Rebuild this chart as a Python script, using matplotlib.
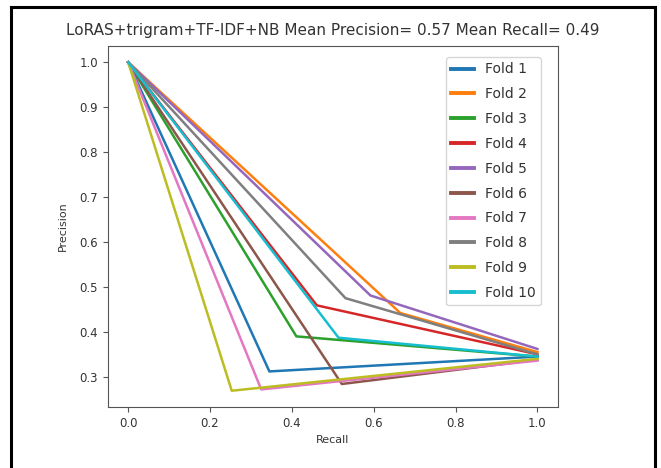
import matplotlib
matplotlib.use("Agg")
import matplotlib.pyplot as plt
from matplotlib.lines import Line2D

folds = ["Fold 1", "Fold 2", "Fold 3", "Fold 4", "Fold 5",
         "Fold 6", "Fold 7", "Fold 8", "Fold 9", "Fold 10"]
mid_recall = [0.345, 0.665, 0.411, 0.461, 0.592, 0.522, 0.325, 0.531, 0.253, 0.514]
mid_precision = [0.312, 0.442, 0.390, 0.459, 0.481, 0.284, 0.272, 0.475, 0.269, 0.387]
end_precision = [0.345, 0.355, 0.345, 0.350, 0.362, 0.338, 0.336, 0.350, 0.340, 0.345]
title = "LoRAS+trigram+TF-IDF+NB Mean Precision= 0.57 Mean Recall= 0.49"

fig = plt.figure(figsize=(6.61, 4.68), dpi=100)
ax = fig.add_axes([0.163, 0.130, 0.681, 0.772])
for i, name in enumerate(folds):
    ax.plot([0.0, mid_recall[i], 1.0], [1.0, mid_precision[i], end_precision[i]],
            color=f"C{i}", lw=1.8, label=name)
ax.set_title(title, fontsize=11, pad=8, color="#333333")
ax.set_xlabel("Recall", fontsize=8, color="#333333")
ax.set_ylabel("Precision", fontsize=8, labelpad=8, color="#333333")
ax.tick_params(labelsize=8.5, labelcolor="#333333", color="#555555")
for s in ax.spines.values():
    s.set_color("#555555")
leg = ax.legend(loc="upper right", fontsize=10, handlelength=1.6,
                labelspacing=0.78, bbox_to_anchor=(1 - 10/450, 1 - 4/361))
for l in leg.get_lines():
    l.set_linewidth(2.8)
for t in leg.get_texts():
    t.set_color("#333333")

# outer black frame
for xs, ys in [([11/661, 11/661], [0, 1-7/468]),
               ([655/661, 655/661], [0, 1-7/468]),
               ([11/661, 655/661], [1-7/468, 1-7/468])]:
    fig.add_artist(Line2D(xs, ys, color="black", lw=2.2, transform=fig.transFigure))

fig.savefig("out.png", dpi=100)
